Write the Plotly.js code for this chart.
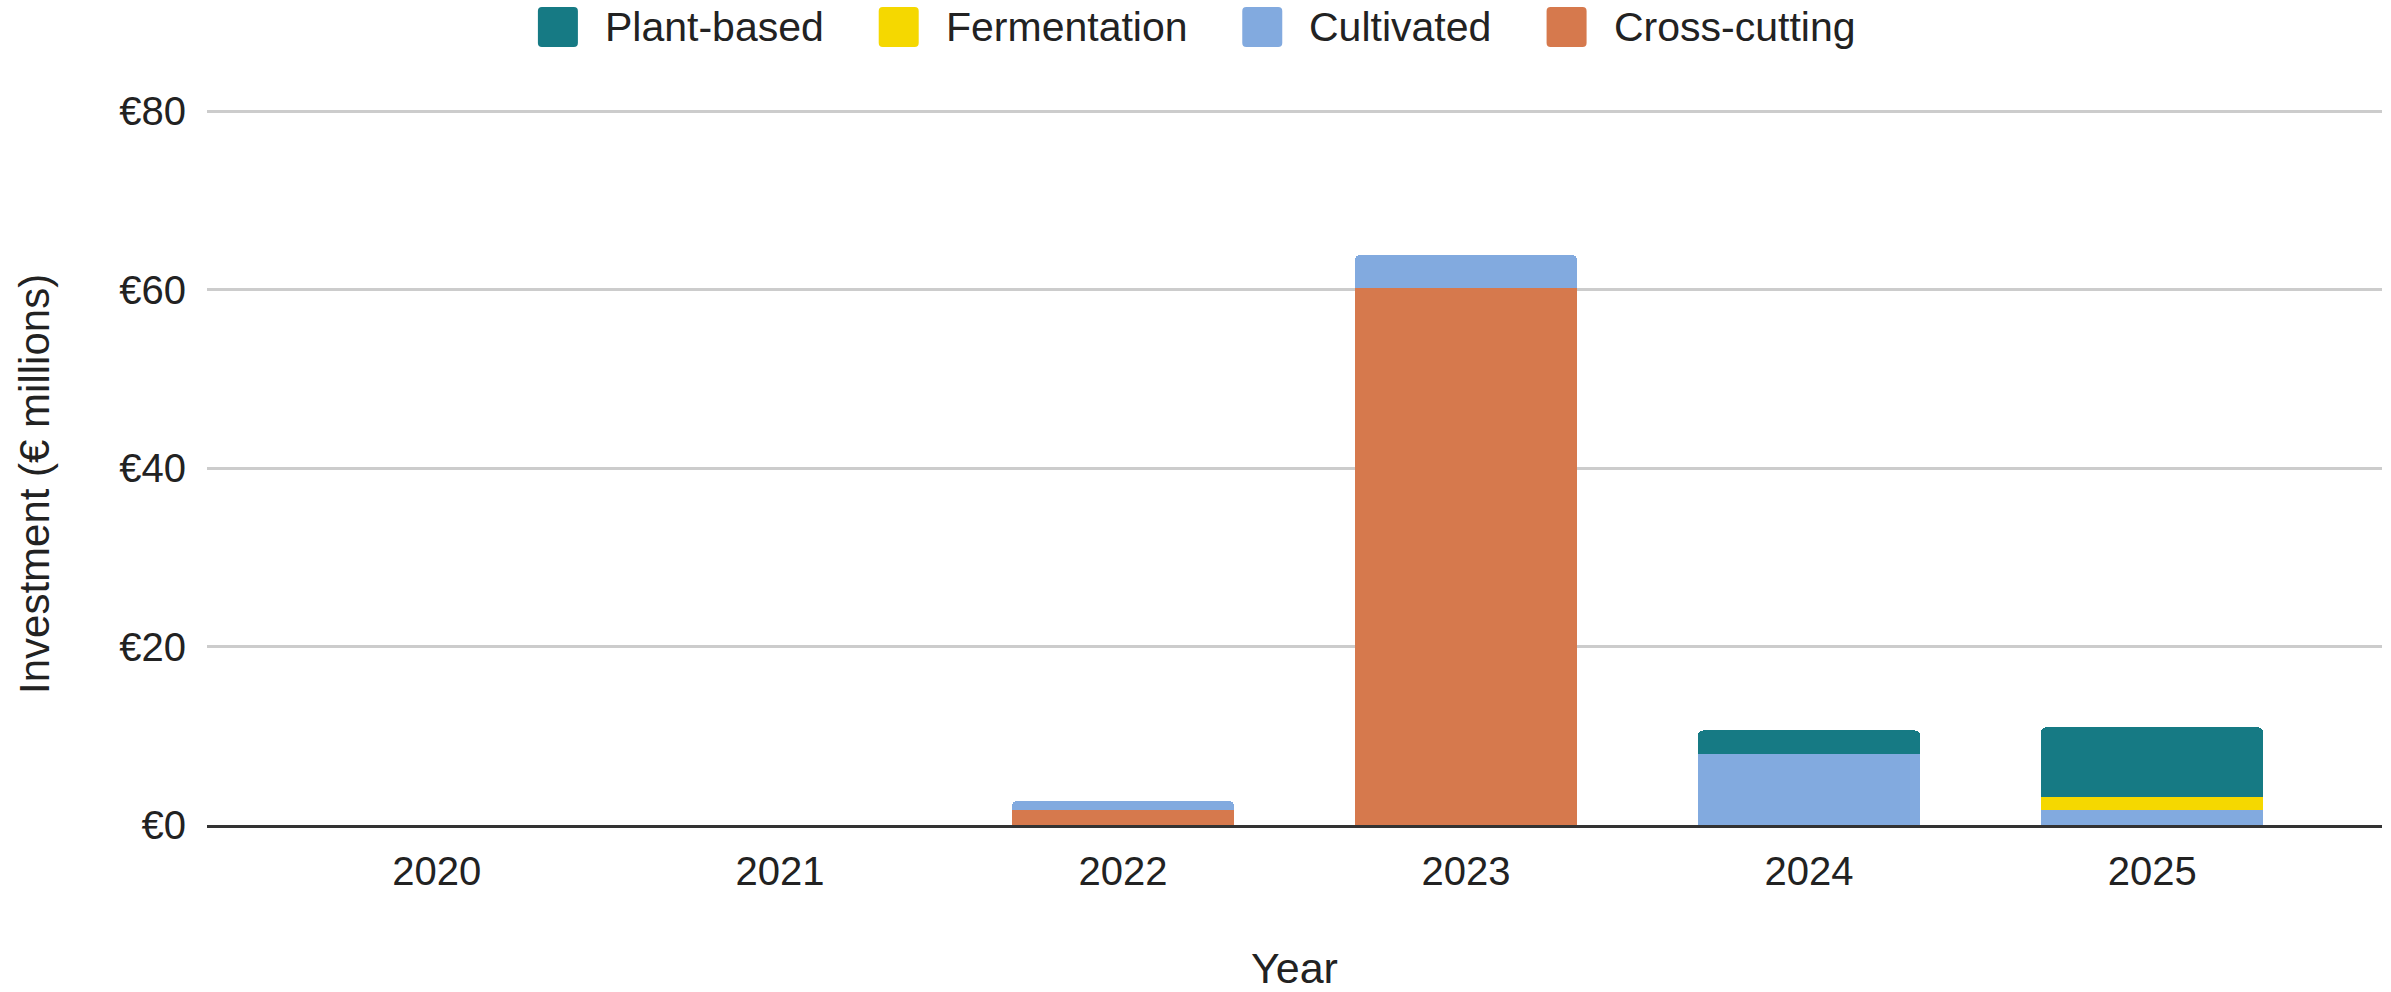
<!DOCTYPE html>
<html>
<head>
<meta charset="utf-8">
<script src="https://cdn.plot.ly/plotly-3.0.1.min.js"></script>
<style>
  html, body { margin: 0; padding: 0; background: #ffffff; }
  #chart { width: 2391px; height: 992px; }
</style>
</head>
<body>
<div id="chart"></div>
<script>
// Annual investment by technology pillar (€ millions)
const years = ['2020', '2021', '2022', '2023', '2024', '2025'];
const crossCutting = [0, 0, 1.7, 60.2, 0, 0];
const cultivated   = [0, 0, 1.0, 3.7, 8.0, 1.65];
const fermentation = [0, 0, 0, 0, 0, 1.5];
const plantBased   = [0, 0, 0, 0, 2.6, 7.8];

const seriesNames  = ['Plant-based', 'Fermentation', 'Cultivated', 'Cross-cutting'];
const seriesColors = ['#167a84', '#f5d800', '#82aadf', '#d6794d'];
const yTickValues  = [0, 20, 40, 60, 80];
const yTickLabels  = ['€0', '€20', '€40', '€60', '€80'];
const xTitle = 'Year';
const yTitle = 'Investment (€ millions)';

const FONT = 'Arial, "Liberation Sans", sans-serif';
const W = 2391, H = 992;
// y range is nudged past 80 so the top gridline is drawn
const Y_MAX = 80.25;
const pxPerUnit = 714 / 80;
const M = { l: 207, r: 9, t: Math.round(111 - (Y_MAX - 80) * pxPerUnit), b: 167 };
const plotW = W - M.l - M.r;
const plotH = H - M.t - M.b;

// stacked bottom-to-top: cross-cutting, cultivated, fermentation, plant-based
const stackOrder = [
  { name: seriesNames[3], y: crossCutting, color: seriesColors[3] },
  { name: seriesNames[2], y: cultivated,   color: seriesColors[2] },
  { name: seriesNames[1], y: fermentation, color: seriesColors[1] },
  { name: seriesNames[0], y: plantBased,   color: seriesColors[0] }
];

const traces = stackOrder.map(s => ({
  type: 'bar',
  name: s.name,
  x: years,
  y: s.y,
  marker: { color: s.color, line: { width: 0 } },
  showlegend: false,
  hoverinfo: 'x+y+name'
}));

const px2x = px => (px - M.l) / plotW;
const py2y = py => 1 + (M.t - py) / plotH;

// Legend row: rounded swatches + labels, centred above the plot
const legendFontSize = 41;
const swatch = 40, swatchGap = 25, itemGap = 57;
const ctx = document.createElement('canvas').getContext('2d');
ctx.font = legendFontSize + 'px "Liberation Sans", Arial, sans-serif';
const widths = seriesNames.map(n => ctx.measureText(n).width);
const total = widths.reduce((a, w) => a + swatch + swatchGap + w, 0) + itemGap * (seriesNames.length - 1);
let cursor = W / 2 - total / 2;
const legendCy = 27;

const shapes = [];
const annotations = [];
const r = 4;
seriesNames.forEach((n, i) => {
  const x0 = cursor, x1 = cursor + swatch;
  const y0 = legendCy - swatch / 2, y1 = legendCy + swatch / 2;
  const X = px2x, Y = py2y;
  const path =
    `M ${X(x0 + r)},${Y(y0)} L ${X(x1 - r)},${Y(y0)} Q ${X(x1)},${Y(y0)} ${X(x1)},${Y(y0 + r)} ` +
    `L ${X(x1)},${Y(y1 - r)} Q ${X(x1)},${Y(y1)} ${X(x1 - r)},${Y(y1)} ` +
    `L ${X(x0 + r)},${Y(y1)} Q ${X(x0)},${Y(y1)} ${X(x0)},${Y(y1 - r)} ` +
    `L ${X(x0)},${Y(y0 + r)} Q ${X(x0)},${Y(y0)} ${X(x0 + r)},${Y(y0)} Z`;
  shapes.push({
    type: 'path', xref: 'paper', yref: 'paper', path: path,
    fillcolor: seriesColors[i], line: { width: 0 }, layer: 'above'
  });
  annotations.push({
    xref: 'paper', yref: 'paper',
    x: px2x(x1 + swatchGap), y: py2y(legendCy),
    xanchor: 'left', yanchor: 'middle',
    text: n, showarrow: false,
    font: { family: FONT, size: legendFontSize, color: '#222222' }
  });
  cursor = x1 + swatchGap + widths[i] + itemGap;
});

// Vertical axis title, set a little below the plot's mid-height
annotations.push({
  xref: 'paper', yref: 'paper',
  x: px2x(34), y: py2y(484),
  xanchor: 'center', yanchor: 'middle',
  textangle: -90,
  text: yTitle, showarrow: false,
  font: { family: FONT, size: 42, color: '#222222' }
});

const layout = {
  width: W, height: H,
  margin: M,
  paper_bgcolor: '#ffffff',
  plot_bgcolor: '#ffffff',
  barmode: 'stack',
  bargap: 0.353,
  barcornerradius: 5,
  showlegend: false,
  font: { family: FONT, size: 40, color: '#222222' },
  xaxis: {
    type: 'category',
    range: [-0.67, 5.67],
    showgrid: false,
    showline: true, linecolor: '#333333', linewidth: 3,
    ticks: '', ticklabelstandoff: 9,
    tickfont: { family: FONT, size: 40, color: '#222222' },
    title: { text: xTitle, font: { family: FONT, size: 43, color: '#222222' }, standoff: 70 },
    automargin: false, fixedrange: true
  },
  yaxis: {
    range: [0, Y_MAX],
    tickvals: yTickValues, ticktext: yTickLabels,
    showgrid: true, gridcolor: '#cccccc', gridwidth: 3,
    zeroline: false, showline: false,
    ticks: '', ticklabelstandoff: 20,
    tickfont: { family: FONT, size: 40, color: '#222222' },
    automargin: false, fixedrange: true
  },
  shapes: shapes,
  annotations: annotations
};

Plotly.newPlot('chart', traces, layout, { displayModeBar: false, staticPlot: true });
</script>
</body>
</html>
